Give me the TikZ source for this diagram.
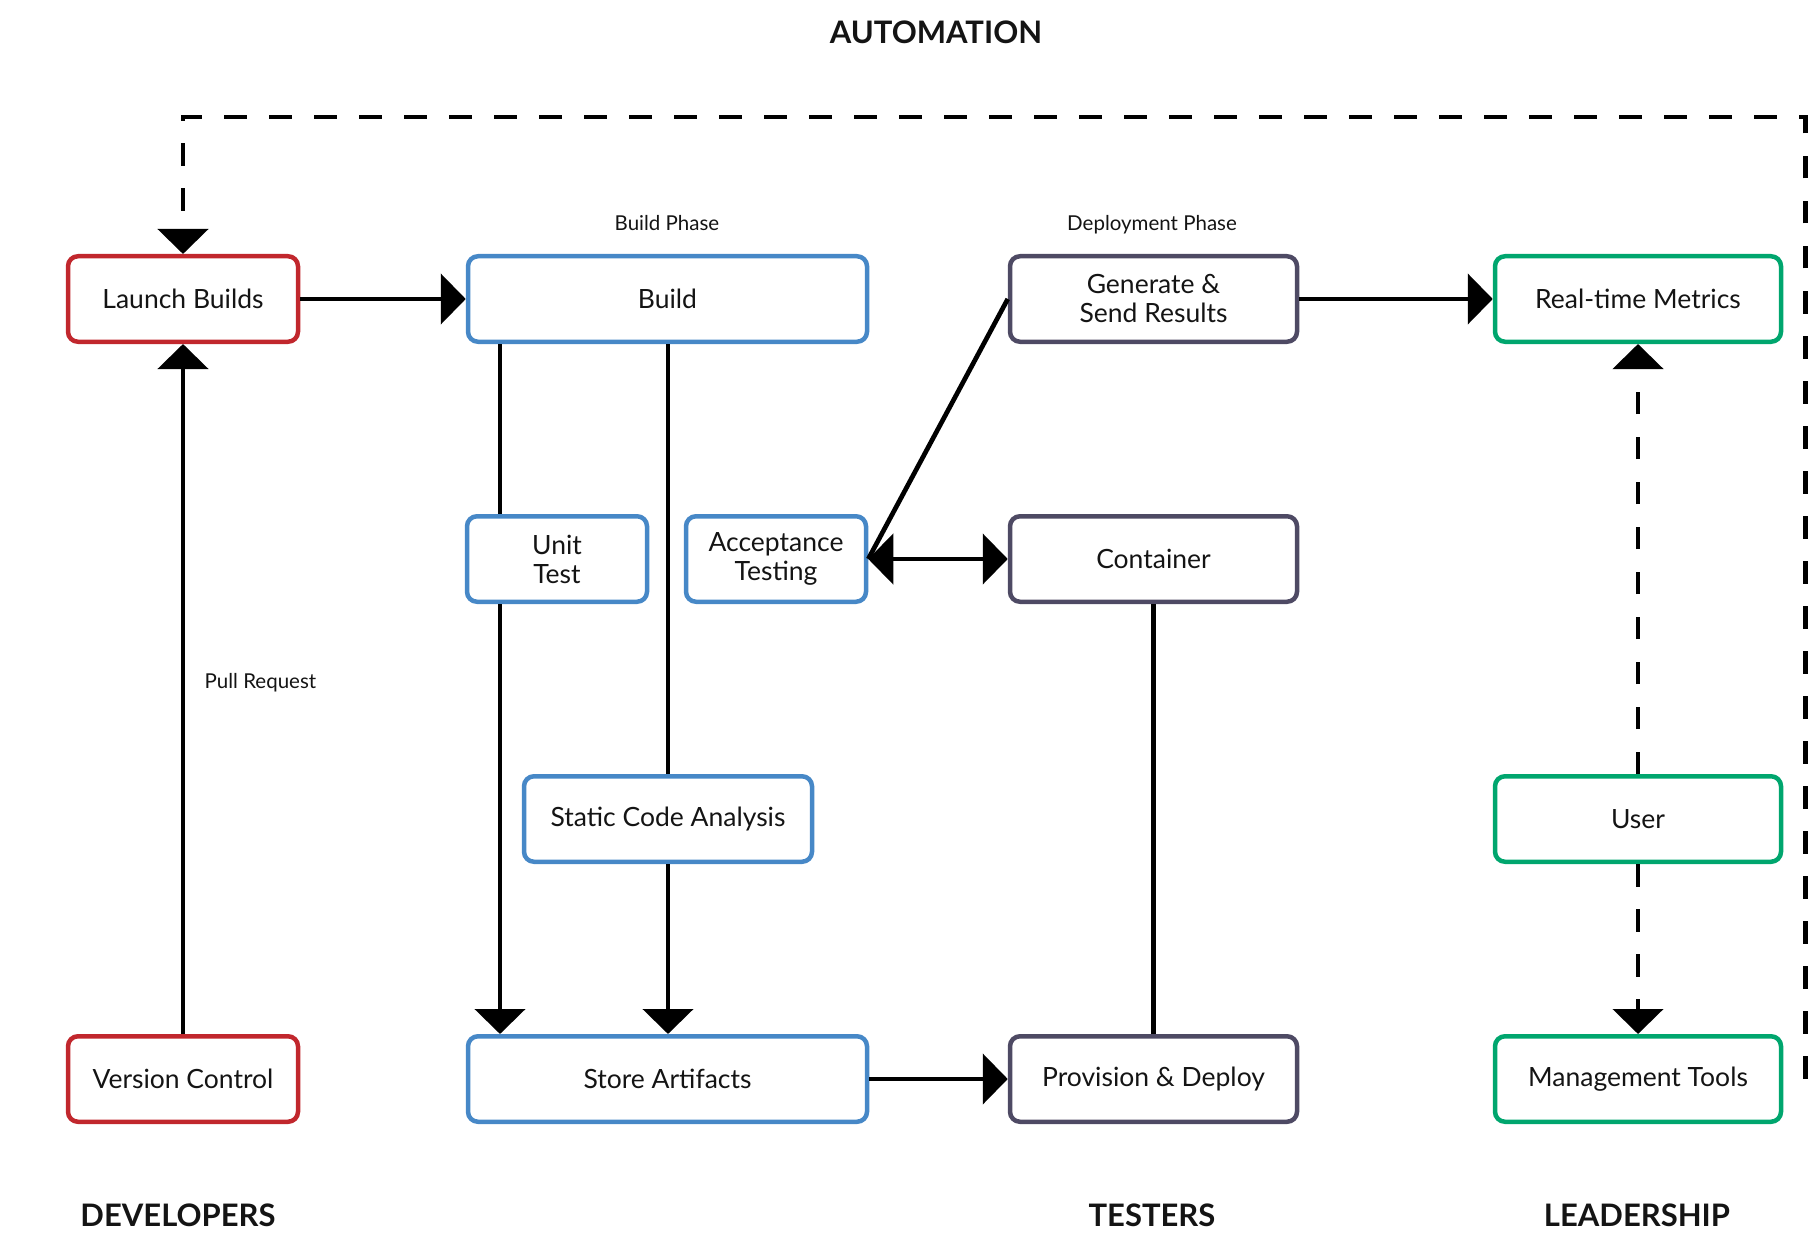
\documentclass[tikz,border=0pt]{standalone}
\usepackage{fontspec}
\setmainfont{Lato}
\usetikzlibrary{arrows.meta}
\definecolor{devred}{RGB}{193,39,45}
\definecolor{buildblue}{RGB}{71,136,199}
\definecolor{slate}{RGB}{78,74,100}
\definecolor{leadgreen}{RGB}{0,166,110}
\definecolor{ink}{RGB}{20,20,20}
\begin{document}
\begin{tikzpicture}[x=1pt,y=-1pt,
  box/.style={draw, rounded corners=10pt, line width=4.5pt, minimum height=85.5pt,
    align=center, inner sep=0pt, text=ink, font=\fontsize{26.5}{29}\selectfont},
  devbox/.style={box, draw=devred, minimum width=230pt},
  bldbox/.style={box, draw=buildblue},
  tstbox/.style={box, draw=slate, minimum width=287pt},
  leadbox/.style={box, draw=leadgreen, minimum width=286pt},
  link/.style={line width=4.7pt, draw=black},
  arrowed/.style={-{Triangle[length=25pt,width=50pt]}},
  twoway/.style={{Triangle[length=25pt,width=50pt]}-{Triangle[length=25pt,width=50pt]}},
  dashlink/.style={link, dash pattern=on 22.5pt off 22.5pt},
  phase/.style={text=ink, font=\fontsize{20.5}{24}\selectfont},
  heading/.style={text=ink, font=\bfseries\fontsize{31}{36}\selectfont}
]
\useasboundingbox (0,0) rectangle (1812,1233);

% headings
\node[heading] (automation) at (936,32) {AUTOMATION};
\node[heading] (developers) at (178,1215) {DEVELOPERS};
\node[heading] (testers) at (1152,1215) {TESTERS};
\node[heading] (leadership) at (1637,1215) {LEADERSHIP};

% developers
\node[devbox] (launch) at (183,299) {Launch Builds};
\node[devbox] (vcs) at (183,1079) {Version Control};

% build phase
\node[phase] (buildphase) at (667,223) {Build Phase};
\node[bldbox, minimum width=399pt] (build) at (667.5,299) {Build};
\node[bldbox, minimum width=180pt] (unit) at (557,559) {Unit\\Test};
\node[bldbox, minimum width=180pt] (accept) at (776,559) {Acceptance\\Testing};
\node[bldbox, minimum width=288pt] (static) at (668,819) {Static Code Analysis};
\node[bldbox, minimum width=399pt] (store) at (667.5,1079) {Store Artifacts};

% deployment phase
\node[phase] (deployphase) at (1152,225) {Deployment Phase};
\node[tstbox] (results) at (1153.5,299) {Generate \&\\Send Results};
\node[tstbox] (container) at (1153.5,559) {Container};
\node[tstbox] (deploy) at (1153.5,1079) {Provision \& Deploy};

% leadership
\node[leadbox] (metrics) at (1638,299) {Real-time Metrics};
\node[leadbox] (user) at (1638,819) {User};
\node[leadbox] (mgmt) at (1638,1079) {Management Tools};

% lanes of the two build branches
\coordinate (unitlane) at (500,0);
\coordinate (staticlane) at (668,0);
\coordinate (looptop) at (0,117);

% connectors
\draw[link, arrowed] (vcs.north) -- node[phase, right, xshift=16pt, yshift=6pt] (pr) {Pull Request} (launch.south);
\draw[link, arrowed] (launch.east) -- (build.west);
\draw[link] (build.south -| unitlane) -- (unit.north -| unitlane);
\draw[link, arrowed] (unit.south -| unitlane) -- (store.north -| unitlane);
\draw[link] (build.south -| staticlane) -- (static.north -| staticlane);
\draw[link, arrowed] (static.south -| staticlane) -- (store.north -| staticlane);
\draw[link, arrowed] (store.east) -- (deploy.west);
\draw[link] (deploy.north) -- (container.south);
\draw[link, twoway] (accept.east) -- (container.west);
\draw[link] (results.west) -- (accept.east);
\draw[link, arrowed] (results.east) -- (metrics.west);
\draw[dashlink, arrowed] (user.north) -- (metrics.south);
\draw[dashlink, arrowed] (user.south) -- (mgmt.north);
\draw[dashlink, dash phase=22.5pt, arrowed] (mgmt.east) -- ++(22,0) |- (launch.north |- looptop) -- (launch.north);
\end{tikzpicture}
\end{document}
